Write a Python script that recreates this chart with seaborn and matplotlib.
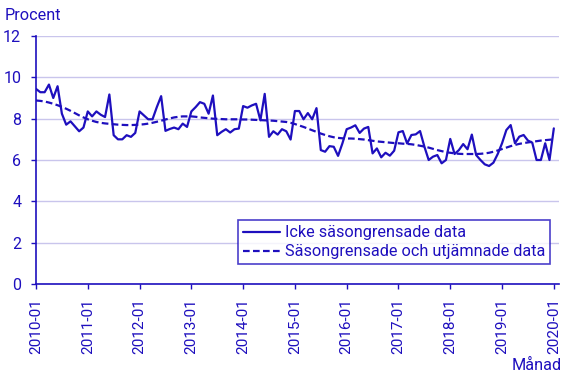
import numpy as np
import pandas as pd
import seaborn as sns
import matplotlib.pyplot as plt

# monthly values, 2010-01 .. 2020-01 (121 months)
raw_values = [
    9.44, 9.28, 9.28, 9.65, 9.00, 9.57, 8.24, 7.71, 7.87, 7.63, 7.39, 7.57,
    8.35, 8.11, 8.35, 8.19, 8.08, 9.17, 7.20, 7.00, 7.00, 7.20, 7.12, 7.31,
    8.35, 8.16, 7.97, 7.97, 8.56, 9.09, 7.41, 7.50, 7.57, 7.49, 7.76, 7.60,
    8.35, 8.56, 8.80, 8.72, 8.24, 9.12, 7.20, 7.36, 7.49, 7.33, 7.49, 7.52,
    8.61, 8.53, 8.64, 8.72, 7.92, 9.20, 7.12, 7.39, 7.23, 7.49, 7.39, 6.99,
    8.37, 8.37, 7.97, 8.27, 7.97, 8.51, 6.48, 6.40, 6.67, 6.64, 6.20, 6.80,
    7.49, 7.57, 7.68, 7.31, 7.52, 7.60, 6.32, 6.56, 6.13, 6.35, 6.21, 6.45,
    7.34, 7.40, 6.80, 7.21, 7.24, 7.40, 6.65, 6.00, 6.16, 6.24, 5.84, 6.00,
    7.02, 6.29, 6.48, 6.77, 6.52, 7.23, 6.24, 6.00, 5.79, 5.71, 5.87, 6.29,
    6.81, 7.45, 7.69, 6.81, 7.13, 7.21, 6.94, 6.84, 6.00, 6.00, 6.81, 6.00,
    7.53,
]
trend_values = [
    8.88, 8.86, 8.83, 8.78, 8.72, 8.65, 8.57, 8.48, 8.38, 8.27, 8.16, 8.06,
    7.97, 7.90, 7.84, 7.80, 7.77, 7.75, 7.73, 7.71, 7.70, 7.69, 7.69, 7.70,
    7.71, 7.73, 7.76, 7.80, 7.85, 7.90, 7.96, 8.01, 8.06, 8.09, 8.11, 8.11,
    8.11, 8.09, 8.06, 8.04, 8.02, 8.00, 7.99, 7.98, 7.97, 7.97, 7.97, 7.97,
    7.96, 7.96, 7.95, 7.94, 7.93, 7.92, 7.91, 7.90, 7.88, 7.86, 7.84, 7.80,
    7.74, 7.67, 7.60, 7.52, 7.44, 7.36, 7.28, 7.21, 7.15, 7.10, 7.07, 7.05,
    7.04, 7.04, 7.03, 7.01, 6.99, 6.96, 6.93, 6.90, 6.88, 6.86, 6.84, 6.82,
    6.81, 6.79, 6.78, 6.76, 6.73, 6.69, 6.65, 6.60, 6.54, 6.48, 6.43, 6.38,
    6.35, 6.32, 6.30, 6.29, 6.29, 6.29, 6.29, 6.30, 6.32, 6.35, 6.40, 6.46,
    6.53, 6.60, 6.67, 6.73, 6.78, 6.82, 6.85, 6.88, 6.91, 6.94, 6.96, 6.98,
    7.00,
]
tick_labels = ["2010-01", "2011-01", "2012-01", "2013-01", "2014-01", "2015-01",
               "2016-01", "2017-01", "2018-01", "2019-01", "2020-01"]
series_names = ["Icke säsongrensade data", "Säsongrensade och utjämnade data"]

blue = "#1e0fbe"
grid_col = "#c9c5ec"

sns.set_theme(style="white")
plt.rcParams["font.family"] = ["Roboto", "DejaVu Sans"]

month = np.arange(len(raw_values))
df = pd.DataFrame({"month": month, "raw": raw_values, "trend": trend_values})

fig = plt.figure(figsize=(5.67, 3.78), dpi=100)
ax = fig.add_axes([36 / 567, 1 - 284 / 378, (559 - 36) / 567, (284 - 36) / 378])

sns.lineplot(data=df, x="month", y="raw", ax=ax, color=blue, lw=1.6, label=series_names[0])
sns.lineplot(data=df, x="month", y="trend", ax=ax, color=blue, lw=1.6, label=series_names[1])
ax.lines[1].set_dashes((3, 1.5))

ax.set_xlim(0, 121.2)
ax.set_ylim(0, 12)
ax.set_yticks(range(0, 13, 2))
ax.set_xticks(range(0, 121, 12))
ax.set_xticklabels(tick_labels, rotation=90)
ax.set_xlabel("")
ax.set_ylabel("")

ax.grid(axis="y", color=grid_col, lw=1)
ax.set_axisbelow(True)
for s in ["top", "right"]:
    ax.spines[s].set_visible(False)
for s in ["left", "bottom"]:
    ax.spines[s].set_color(blue)
    ax.spines[s].set_linewidth(1.2)
ax.tick_params(axis="both", colors=blue, labelcolor=blue, labelsize=11,
               length=3.6, width=1, direction="out")
ax.tick_params(axis="y", labelsize=11.5, pad=7)
ax.tick_params(axis="x", pad=6.5)
ax.tick_params(left=True, bottom=True)

leg = ax.legend(loc="lower right", bbox_to_anchor=(0.983, 0.08), frameon=True,
                fancybox=False, edgecolor=blue, fontsize=11.7, handlelength=2.3,
                handletextpad=0.3, borderpad=0.3, labelspacing=0.25, borderaxespad=0)
leg.get_frame().set_linewidth(1.2)
for t in leg.get_texts():
    t.set_color(blue)

fig.text(5 / 567, 1 - 15 / 378, "Procent", color=blue, fontsize=11.7, va="center", ha="left")
fig.text(562 / 567, 1 - 366 / 378, "Månad", color=blue, fontsize=11.7, va="center", ha="right")

fig.savefig("out.png", dpi=100)
